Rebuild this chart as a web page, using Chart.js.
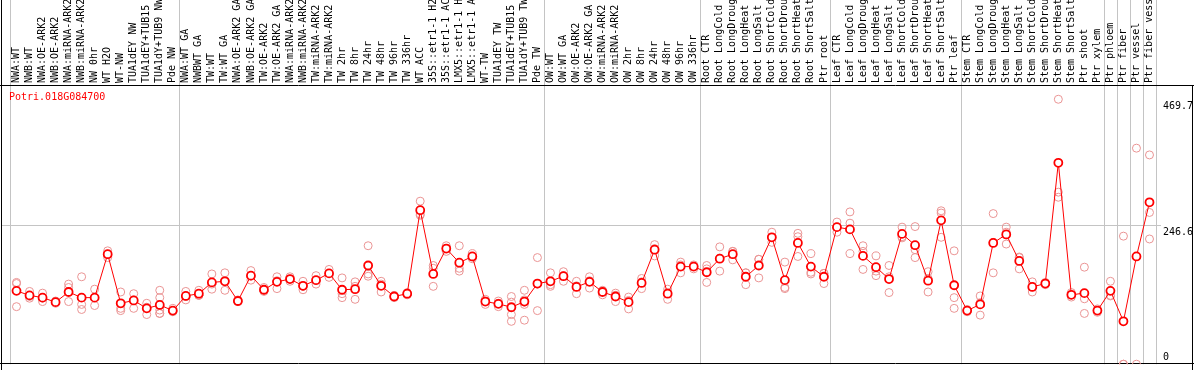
<!DOCTYPE html>
<html>
<head>
<meta charset="utf-8">
<script src="https://cdn.jsdelivr.net/npm/chart.js@4/dist/chart.umd.min.js"></script>
<style>
html,body{margin:0;padding:0;background:#fff;}
#c{display:block;}
</style>
</head>
<body>
<canvas id="c" width="1194" height="370"></canvas>
<script>
const geneId = 'Potri.018G084700';

const categories = [
  'NWA:WT','NWB:WT','NWA:OE-ARK2','NWB:OE-ARK2','NWA:miRNA-ARK2','NWB:miRNA-ARK2','NW 0hr','WT H2O','WT-NW','TUA1dEY NW','TUA1dEY+TUB15','TUA1dY+TUB9 NW','Pde NW',
  'NWA:WT GA','NWBWT GA','TW:WT','TW:WT GA','NWA:OE-ARK2 GA','NWB:OE-ARK2 GA','TW:OE-ARK2','TW:OE-ARK2 GA','NWA:miRNA-ARK2','NWB:miRNA-ARK2','TW:miRNA-ARK2','TW:miRNA-ARK2',
  'TW 2hr','TW 8hr','TW 24hr','TW 48hr','TW 96hr','TW 336hr','WT ACC','35S::etr1-1 H2O','35S::etr1-1 ACC','LMX5::etr1-1 H2O','LMX5::etr1-1 ACC','WT-TW','TUA1dEY TW','TUA1dEY+TUB15','TUA1dY+TUB9 TW','Pde TW',
  'OW:WT','OW:WT GA','OW:OE-ARK2','OW:OE-ARK2 GA','OW:miRNA-ARK2','OW:miRNA-ARK2','OW 2hr','OW 8hr','OW 24hr','OW 48hr','OW 96hr','OW 336hr',
  'Root CTR','Root LongCold','Root LongDrought','Root LongHeat','Root LongSalt','Root ShortCold','Root ShortDrought','Root ShortHeat','Root ShortSalt','Ptr root',
  'Leaf CTR','Leaf LongCold','Leaf LongDrought','Leaf LongHeat','Leaf LongSalt','Leaf ShortCold','Leaf ShortDrought','Leaf ShortHeat','Leaf ShortSalt','Ptr leaf',
  'Stem CTR','Stem LongCold','Stem LongDrought','Stem LongHeat','Stem LongSalt','Stem ShortCold','Stem ShortDrought','Stem ShortHeat','Stem ShortSalt','Ptr shoot','Ptr xylem',
  'Ptr phloem','Ptr fiber','Ptr vessel','Ptr fiber vessel'
];

// number of categories in each group (gray dividers between groups)
const groupSizes = [13, 28, 12, 10, 10, 11, 1, 1, 1, 1];

const meanValues = [
  130,122,118,110,128,118,118,195,108,113,99,105,95,
  121,125,145,147,112,157,132,146,151,139,149,161,
  132,133,175,139,120,125,273,160,205,180,191,111,107,101,111,143,
  147,156,137,146,128,120,110,144,203,125,173,173,
  163,187,195,155,175,225,149,215,173,155,
  243,239,192,172,151,231,211,148,255,140,
  95,106,215,230,183,137,143,357,123,126,95,
  130,76,191,287
];

const replicateValues = [
  [143,145,102],[129,117,120],[126,111,117],[112,108,110],[142,136,111],[155,106,97],[133,104,118],[201,189,195],[128,99,95],[125,99,114],[108,88,101],[131,118,96,90,90],[99,93,94],
  [129,114,120],[131,122,122],[160,133,142],[162,131,148],[114,111,111],[166,149,156],[136,129,131],[155,134,148],[155,147,151],[147,132,138],[157,142,148],[168,154,161],
  [153,125,118],[146,115,138],[210,156,160],[147,128,142],[122,118,120],[127,123,125],[289,266,264],[175,170,138],[210,200,205],[210,170,165],[196,187,190],[115,106,112],[112,102,108],[120,110,88,76],[131,114,110,106,78],[189,142,95],
  [162,138,141],[164,147,157],[147,125,139],[155,135,148],[131,123,130],[126,111,122],[119,98,113],[152,134,146],[212,192,205],[133,115,127],[181,162,176],[176,169,174],
  [175,145,169],[208,165,188],[200,185,200],[162,141,162],[186,153,186],[234,216,225],[181,136,134],[232,226,191],[196,163,160],[161,143,161],
  [252,234,243],[270,250,196],[210,200,168],[192,165,157],[175,155,127],[243,224,226],[244,203,189],[164,128,152],[272,268,225],[201,118,99],
  [97,93,95],[121,87,109],[267,162,216],[243,213,234],[190,169,189],[146,128,137],[145,141,143],[469.7,305,296],[127,119,123],[172,90,116],[95,92,98],
  [147,121,122],[227,0,0],[383,0],[371,269,222]
];

const yTickValues = [0, 246.6, 469.7];
const yAxisMax = 493.2;
const gridLineValue = 246.6;

const maxReps = Math.max(...replicateValues.map(r => r.length));
const repDatasets = [];
for (let k = 0; k < maxReps; k++) {
  repDatasets.push({
    label: 'rep' + (k + 1),
    data: replicateValues.map(r => (r[k] === undefined ? null : r[k])),
    showLine: false,
    pointRadius: 4,
    pointHoverRadius: 4,
    pointBorderWidth: 1,
    pointBorderColor: '#ea9494',
    pointBackgroundColor: 'rgba(0,0,0,0)'
  });
}

const framePlugin = {
  id: 'frame',
  beforeDatasetsDraw(chart) {
    const {ctx, chartArea: a, scales: {x, y}} = chart;
    const W = chart.width, H = chart.height;
    const half = (x.getPixelForValue(1) - x.getPixelForValue(0)) / 2;
    ctx.save();
    ctx.lineWidth = 1;
    ctx.strokeStyle = '#c4c4c4';
    const bounds = [0];
    let acc = 0;
    groupSizes.forEach(g => { acc += g; bounds.push(acc); });
    bounds.forEach(b => {
      const px = b === 0 ? x.getPixelForValue(0) - half : x.getPixelForValue(b - 1) + half;
      const cx = Math.round(px) + 0.5;
      ctx.beginPath(); ctx.moveTo(cx, 0); ctx.lineTo(cx, a.bottom); ctx.stroke();
    });
    const gy = Math.round(y.getPixelForValue(gridLineValue)) + 0.5;
    ctx.beginPath(); ctx.moveTo(1, gy); ctx.lineTo(a.right + 5, gy); ctx.stroke();
    // black frame
    ctx.strokeStyle = '#000';
    const ty = Math.round(a.top) - 0.5;
    const by = Math.round(a.bottom) - 0.5;
    ctx.beginPath(); ctx.moveTo(0, ty); ctx.lineTo(W, ty); ctx.stroke();
    ctx.beginPath(); ctx.moveTo(0, by); ctx.lineTo(W, by); ctx.stroke();
    ctx.beginPath(); ctx.moveTo(1.5, 0); ctx.lineTo(1.5, H); ctx.stroke();
    ctx.beginPath(); ctx.moveTo(W - 1.5, ty); ctx.lineTo(W - 1.5, H); ctx.stroke();
    ctx.restore();
  },
  afterDraw(chart) {
    const {ctx, chartArea: a, scales: {y}} = chart;
    ctx.save();
    ctx.font = '10px "DejaVu Sans Mono"';
    ctx.textAlign = 'left';
    ctx.textBaseline = 'middle';
    ctx.fillStyle = '#000';
    yTickValues.forEach(v => {
      const py = Math.min(y.getPixelForValue(v) + 7, a.bottom - 7);
      ctx.fillText(String(v), a.right + 7, py);
    });
    ctx.fillStyle = '#ff0000';
    ctx.fillText(geneId, a.left - 1, a.top + 11);
    ctx.restore();
  }
};

new Chart(document.getElementById('c'), {
  type: 'line',
  data: {
    labels: categories,
    datasets: [
      {
        label: 'mean',
        data: meanValues,
        borderColor: '#ff0000',
        borderWidth: 1,
        tension: 0,
        pointRadius: 4,
        pointHoverRadius: 4,
        pointBorderWidth: 1.8,
        pointBorderColor: '#ff0000',
        pointBackgroundColor: '#ffffff'
      },
      ...repDatasets
    ]
  },
  options: {
    responsive: false,
    animation: false,
    events: [],
    layout: {padding: {left: 10, right: 0, top: 0, bottom: 1}},
    plugins: {legend: {display: false}, tooltip: {enabled: false}, title: {display: false}},
    scales: {
      x: {
        type: 'category',
        position: 'top',
        offset: true,
        grid: {display: false, drawTicks: false},
        border: {display: false},
        ticks: {
          autoSkip: false, maxRotation: 90, minRotation: 90, padding: 3, labelOffset: 12,
          color: '#000', font: {family: '"DejaVu Sans Mono"', size: 10}
        },
        afterFit(s) { s.height = 86; }
      },
      y: {
        position: 'right',
        min: 0,
        max: yAxisMax,
        grid: {display: false, drawTicks: false},
        border: {display: false},
        ticks: {display: false},
        afterBuildTicks(s) { s.ticks = yTickValues.map(v => ({value: v})); },
        afterFit(s) { s.width = 38; }
      }
    }
  },
  plugins: [framePlugin]
});
</script>
</body>
</html>
